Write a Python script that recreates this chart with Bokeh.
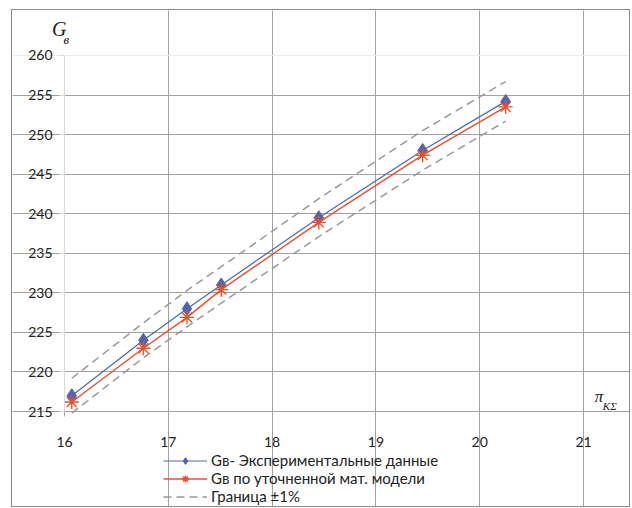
from bokeh.plotting import figure
from bokeh.models import Legend, LegendItem, Label, FixedTicker, Grid
from bokeh.embed import file_html
from bokeh.resources import INLINE

# data
pi_k = [16.07, 16.76, 17.18, 17.51, 18.45, 19.45, 20.25]
g_exp = [217.0, 224.0, 228.0, 231.0, 239.5, 248.0, 254.2]
g_model = [216.2, 223.0, 226.9, 230.4, 238.9, 247.4, 253.5]
g_upper = [219.2, 226.2, 230.3, 233.3, 241.9, 250.5, 256.7]
g_lower = [214.8, 221.8, 225.7, 228.7, 237.1, 245.5, 251.7]
x_ticks = [16, 17, 18, 19, 20, 21]
y_ticks = [215, 220, 225, 230, 235, 240, 245, 250, 255, 260]
labels = ["Gв- Экспериментальные данные", "Gв по уточненной мат. модели", "Граница ±1%"]

BLUE = "#4F66AE"
RED = "#F04E2A"
GRAY = "#A0A0A0"
FONT = "Lato"

p = figure(width=619, height=498, x_range=(15.499, 21.4624), y_range=(202.739, 265.688),
           output_backend="svg", toolbar_location=None,
           min_border_left=0, min_border_right=0, min_border_top=0, min_border_bottom=0)
p.margin = (9, 0, 0, 11)
p.styles = {"border": "1px solid #8c8c8c"}
p.outline_line_color = None
p.background_fill_color = "white"

p.xaxis.ticker = FixedTicker(ticks=x_ticks)
p.yaxis.ticker = FixedTicker(ticks=y_ticks)
p.xaxis.bounds = (16, 21)
p.yaxis.bounds = (215, 260)
p.xaxis.fixed_location = 215
p.yaxis.fixed_location = 16
p.xgrid.ticker = FixedTicker(ticks=x_ticks[1:])
p.ygrid.ticker = FixedTicker(ticks=y_ticks[:-1])
p.xgrid.bounds = (215, 260)
p.ygrid.bounds = (16, 21)
p.grid.grid_line_color = GRAY
p.grid.grid_line_width = 1
p.add_layout(Grid(dimension=1, ticker=FixedTicker(ticks=y_ticks[-1:]), bounds=(16, 21),
                  grid_line_color="#EBEBEB"))
p.xaxis.minor_tick_line_color = None
p.yaxis.minor_tick_line_color = None
p.xaxis.axis_line_color = GRAY
p.yaxis.axis_line_color = "#D9D9D9"
p.xaxis.major_tick_line_color = GRAY
p.yaxis.major_tick_line_color = "#D9D9D9"
p.axis.major_tick_out = 5
p.axis.major_tick_in = 0
p.axis.major_label_text_font = FONT
p.axis.major_label_text_font_size = "14px"
p.axis.major_label_text_color = "#222222"
p.xaxis.major_label_standoff = 20
p.yaxis.major_label_standoff = 7

dash = p.line(pi_k, g_upper, line_color="#999999", line_width=1.5, line_dash="8 5")
p.line(pi_k, g_lower, line_color="#999999", line_width=1.5, line_dash="8 5")
bl = p.line(pi_k, g_exp, line_color=BLUE, line_width=1.2)
bm = p.scatter(pi_k, g_exp, marker="diamond", size=14, fill_color=BLUE, line_color=BLUE)
rl = p.line(pi_k, g_model, line_color=RED, line_width=1.4)
rm = p.scatter(pi_k, g_model, marker="asterisk", size=14, line_color=RED, line_width=1.4)

legend = Legend(items=[LegendItem(label=labels[0], renderers=[bl, bm]),
                       LegendItem(label=labels[1], renderers=[rl, rm]),
                       LegendItem(label=labels[2], renderers=[dash])],
                location=(151, 3), orientation="vertical",
                border_line_color=None, background_fill_alpha=0,
                padding=0, spacing=0, margin=0,
                glyph_width=44, glyph_height=17, label_height=17, label_standoff=4,
                label_text_font=FONT, label_text_font_size="15px", label_text_color="#222222")
p.add_layout(legend, "center")

p.add_layout(Label(x=15.88, y=261.97, text="G", text_font="Liberation Serif",
                   text_font_style="italic", text_font_size="20px", text_color="#222222"))
p.add_layout(Label(x=15.99, y=261.03, text="в", text_font="Liberation Serif",
                   text_font_style="italic", text_font_size="13px", text_color="#222222"))
p.add_layout(Label(x=21.108, y=215.67, text="π", text_font="Liberation Serif",
                   text_font_style="italic", text_font_size="17px", text_color="#222222"))
p.add_layout(Label(x=21.186, y=215.0, text="KΣ", text_font="Liberation Serif",
                   text_font_style="italic", text_font_size="11px", text_color="#222222"))

open("out.html", "w").write(file_html(p, INLINE))
